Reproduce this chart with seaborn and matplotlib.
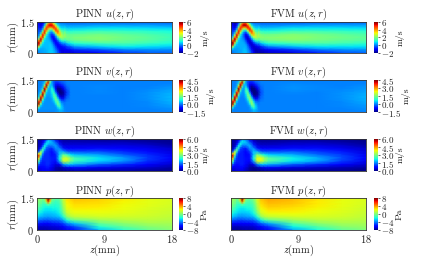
import matplotlib
matplotlib.use("Agg")
import numpy as np
import matplotlib.pyplot as plt
import seaborn as sns
from matplotlib.transforms import Affine2D

# coarse blocks, r top to bottom: 1.5, 1.35 ... 0
# near block: z = 0, 0.5 ... 5, far block: z = 8.25, 11.5, 14.75, 18
pinn_u_near = [
    [-1.0, -1.5, 0.0, 2.5, 2.5, 0.5, -0.3, -0.2, -0.2, -0.2, -0.2],
    [-0.5, -1.2, 1.5, 5.0, 5.0, 3.0, 1.0, 0.3, 0.1, 0.1, 0.1],
    [-0.3, -0.5, 4.5, 4.0, 4.5, 4.8, 2.5, 0.9, 0.6, 0.6, 0.6],
    [-0.2, 0.5, 4.5, 1.5, 1.0, 3.8, 3.7, 1.8, 1.2, 1.1, 1.2],
    [0.0, 3.0, 2.0, 0.5, -0.3, 1.2, 3.0, 2.4, 1.8, 1.7, 1.7],
    [0.5, 5.2, 0.8, 0.3, -0.8, -0.5, 1.0, 2.2, 2.0, 1.9, 2.0],
    [3.0, 4.5, 0.5, 0.4, -0.5, -1.0, -0.2, 1.0, 1.6, 1.7, 1.8],
    [5.8, 1.5, 0.5, 0.5, 0.0, -0.8, -0.8, -0.2, 0.5, 0.9, 1.1],
    [5.0, 0.5, 0.5, 0.6, 0.4, -0.2, -1.0, -1.0, -0.5, -0.2, 0.2],
    [0.0, 0.3, 0.5, 0.6, 0.6, 0.2, -0.6, -1.2, -1.1, -0.9, -0.7],
    [-0.3, 0.2, 0.4, 0.6, 0.6, 0.4, -0.4, -1.2, -1.4, -1.4, -1.3],
]
pinn_u_far = [
    [-0.2, -0.2, -0.2, -0.2],
    [0.2, 0.2, 0.2, 0.1],
    [0.8, 0.8, 0.7, 0.6],
    [1.4, 1.3, 1.2, 1.0],
    [1.9, 1.7, 1.5, 1.3],
    [2.1, 1.9, 1.7, 1.4],
    [2.0, 1.8, 1.6, 1.3],
    [1.4, 1.5, 1.3, 1.0],
    [0.6, 0.9, 0.8, 0.6],
    [-0.4, 0.0, 0.1, 0.1],
    [-1.1, -0.6, -0.3, -0.2],
]
fvm_u_near = [
    [-1.2, -1.6, -0.2, 2.8, 2.8, 0.6, -0.4, -0.3, -0.3, -0.3, -0.3],
    [-0.7, -1.3, 1.4, 5.2, 5.3, 3.2, 1.0, 0.2, 0.0, 0.0, 0.0],
    [-0.4, -0.7, 4.6, 4.2, 4.7, 5.0, 2.6, 0.9, 0.5, 0.5, 0.5],
    [-0.3, 0.4, 4.8, 1.4, 0.8, 3.9, 3.9, 1.9, 1.2, 1.1, 1.1],
    [0.0, 3.0, 2.0, 0.3, -0.6, 1.0, 3.1, 2.6, 1.9, 1.8, 1.8],
    [0.6, 5.4, 0.7, 0.1, -1.2, -0.9, 0.8, 2.4, 2.2, 2.1, 2.1],
    [3.2, 4.6, 0.4, 0.3, -0.7, -1.4, -0.5, 1.0, 1.7, 1.8, 1.9],
    [6.0, 1.4, 0.4, 0.4, -0.1, -1.0, -1.2, -0.3, 0.5, 0.9, 1.1],
    [5.2, 0.4, 0.4, 0.5, 0.3, -0.4, -1.4, -1.3, -0.7, -0.3, 0.0],
    [0.0, 0.2, 0.4, 0.5, 0.5, 0.1, -0.9, -1.5, -1.4, -1.2, -1.0],
    [-0.4, 0.1, 0.3, 0.5, 0.5, 0.3, -0.7, -1.6, -1.7, -1.6, -1.5],
]
fvm_u_far = [
    [-0.3, -0.3, -0.2, -0.2],
    [0.1, 0.2, 0.2, 0.2],
    [0.8, 0.8, 0.8, 0.7],
    [1.4, 1.4, 1.3, 1.2],
    [2.0, 1.9, 1.7, 1.5],
    [2.2, 2.0, 1.9, 1.7],
    [2.0, 1.9, 1.7, 1.6],
    [1.4, 1.5, 1.4, 1.2],
    [0.5, 0.8, 0.8, 0.8],
    [-0.6, -0.1, 0.1, 0.2],
    [-1.3, -0.8, -0.4, -0.2],
]

pinn_v_near = [
    [0.0, 0.0, 0.5, 2.0, 0.5, 0.0, -0.2, -0.1, 0.0, 0.0, 0.0],
    [0.0, 0.0, 1.5, 3.5, 0.2, -0.2, -0.3, -0.2, 0.0, 0.0, 0.0],
    [0.0, 0.2, 3.8, 1.2, 0.0, -0.8, -0.9, -0.5, -0.1, 0.0, 0.0],
    [0.0, 1.0, 4.3, 0.3, 0.3, -1.0, -1.4, -1.0, -0.3, 0.0, 0.0],
    [0.2, 3.2, 1.5, 0.3, 0.6, -0.4, -1.5, -1.3, -0.4, 0.0, 0.0],
    [0.5, 4.4, 0.5, 0.3, 0.9, 0.2, -1.0, -1.1, -0.3, 0.0, 0.0],
    [2.5, 3.2, 0.2, 0.2, 0.8, 0.8, -0.2, -0.5, -0.1, 0.0, 0.0],
    [4.2, 0.8, 0.1, 0.1, 0.4, 1.0, 0.3, -0.1, 0.0, 0.0, 0.0],
    [3.0, 0.2, 0.1, 0.1, 0.2, 0.6, 0.5, 0.0, 0.0, 0.0, 0.0],
    [0.3, 0.1, 0.1, 0.1, 0.1, 0.2, 0.4, 0.1, 0.0, 0.0, 0.0],
    [0.0, 0.0, 0.0, 0.0, 0.0, 0.0, 0.1, 0.1, 0.0, 0.0, 0.0],
]
pinn_v_far = [
    [0.0, 0.0, 0.0, 0.0],
    [0.0, 0.0, 0.0, 0.0],
    [0.05, 0.0, 0.0, 0.1],
    [0.05, 0.0, 0.05, 0.2],
    [0.05, 0.0, 0.1, 0.3],
    [0.0, 0.0, 0.1, 0.35],
    [0.0, 0.0, 0.1, 0.35],
    [0.0, 0.0, 0.05, 0.3],
    [0.0, 0.0, 0.05, 0.2],
    [0.0, 0.0, 0.0, 0.1],
    [0.0, 0.0, 0.0, 0.0],
]
fvm_v_near = [
    [0.0, 0.0, 0.4, 2.2, 0.4, 0.0, -0.2, -0.1, 0.0, 0.0, 0.0],
    [0.0, 0.0, 1.5, 3.7, 0.1, -0.3, -0.4, -0.2, 0.0, 0.0, 0.0],
    [0.0, 0.2, 4.0, 1.1, 0.0, -0.9, -1.0, -0.5, -0.1, 0.0, 0.0],
    [0.0, 1.0, 4.5, 0.2, 0.4, -1.1, -1.5, -1.1, -0.2, 0.0, 0.0],
    [0.2, 3.3, 1.4, 0.2, 0.8, -0.4, -1.6, -1.4, -0.3, 0.0, 0.0],
    [0.5, 4.5, 0.4, 0.2, 1.1, 0.3, -1.2, -1.2, -0.2, 0.0, 0.0],
    [2.6, 3.3, 0.1, 0.1, 0.9, 1.0, -0.3, -0.5, -0.1, 0.0, 0.0],
    [4.3, 0.8, 0.0, 0.0, 0.4, 1.2, 0.3, -0.1, 0.0, 0.0, 0.0],
    [3.1, 0.1, 0.0, 0.0, 0.2, 0.7, 0.6, 0.0, 0.0, 0.0, 0.0],
    [0.2, 0.0, 0.0, 0.0, 0.1, 0.2, 0.4, 0.1, 0.0, 0.0, 0.0],
    [0.0, 0.0, 0.0, 0.0, 0.0, 0.0, 0.1, 0.1, 0.0, 0.0, 0.0],
]
fvm_v_far = [
    [0.0, 0.0, 0.0, 0.0],
    [0.05, 0.0, 0.0, 0.0],
    [0.1, 0.05, 0.0, 0.1],
    [0.1, 0.05, 0.05, 0.15],
    [0.05, 0.0, 0.1, 0.25],
    [0.0, 0.0, 0.1, 0.3],
    [0.0, 0.0, 0.1, 0.3],
    [0.0, 0.0, 0.05, 0.25],
    [0.0, 0.0, 0.05, 0.15],
    [0.0, 0.0, 0.0, 0.1],
    [0.0, 0.0, 0.0, 0.0],
]

pinn_w_near = [
    [0.3, 0.3, 0.7, 1.6, 1.3, 0.6, 0.3, 0.2, 0.2, 0.2, 0.2],
    [0.3, 0.4, 1.2, 2.0, 1.8, 1.2, 0.5, 0.3, 0.3, 0.3, 0.3],
    [0.3, 0.5, 2.0, 1.5, 1.6, 1.7, 1.0, 0.5, 0.5, 0.5, 0.5],
    [0.4, 1.0, 2.0, 1.1, 1.0, 1.6, 1.5, 0.9, 0.7, 0.7, 0.7],
    [0.8, 2.6, 1.2, 1.0, 0.8, 1.2, 1.8, 1.7, 1.3, 1.2, 1.2],
    [3.5, 3.0, 1.0, 1.0, 0.8, 0.9, 1.9, 2.8, 2.5, 2.1, 1.9],
    [6.0, 2.2, 1.0, 1.0, 0.9, 0.9, 2.2, 3.5, 3.6, 3.0, 2.6],
    [6.0, 1.5, 0.9, 1.0, 0.9, 0.8, 1.8, 3.5, 3.5, 2.9, 2.5],
    [5.0, 1.0, 0.9, 1.0, 0.8, 0.5, 0.7, 1.6, 1.9, 1.9, 1.8],
    [1.0, 0.7, 0.8, 0.8, 0.6, 0.3, 0.2, 0.4, 0.6, 0.7, 0.8],
    [0.5, 0.5, 0.6, 0.6, 0.4, 0.2, 0.1, 0.1, 0.1, 0.1, 0.2],
]
pinn_w_far = [
    [0.1, 0.1, 0.1, 0.1],
    [0.3, 0.3, 0.2, 0.1],
    [0.5, 0.5, 0.4, 0.2],
    [0.8, 0.7, 0.6, 0.4],
    [1.2, 1.0, 0.8, 0.5],
    [1.7, 1.3, 1.0, 0.6],
    [2.1, 1.7, 1.1, 0.7],
    [2.0, 1.6, 1.0, 0.6],
    [1.3, 1.0, 0.7, 0.4],
    [0.6, 0.5, 0.4, 0.2],
    [0.2, 0.2, 0.1, 0.1],
]
fvm_w_near = [
    [0.2, 0.2, 0.6, 1.6, 1.4, 0.6, 0.2, 0.1, 0.1, 0.1, 0.1],
    [0.2, 0.3, 1.2, 2.1, 1.9, 1.2, 0.5, 0.3, 0.2, 0.2, 0.2],
    [0.2, 0.4, 2.1, 1.5, 1.6, 1.8, 1.0, 0.5, 0.4, 0.4, 0.4],
    [0.3, 1.0, 2.1, 1.0, 0.9, 1.6, 1.6, 0.9, 0.7, 0.7, 0.7],
    [0.8, 2.8, 1.2, 0.9, 0.7, 1.1, 1.9, 1.8, 1.3, 1.2, 1.2],
    [3.8, 3.1, 1.0, 0.9, 0.7, 0.8, 1.9, 3.0, 2.6, 2.2, 2.0],
    [6.0, 2.2, 1.0, 0.9, 0.8, 0.8, 2.2, 3.7, 3.8, 3.2, 2.8],
    [6.0, 1.5, 0.9, 0.9, 0.8, 0.7, 1.7, 3.7, 3.7, 3.1, 2.7],
    [5.2, 1.0, 0.9, 0.9, 0.7, 0.4, 0.6, 1.5, 1.9, 1.9, 1.8],
    [1.0, 0.7, 0.7, 0.7, 0.5, 0.2, 0.1, 0.3, 0.5, 0.6, 0.7],
    [0.4, 0.4, 0.5, 0.5, 0.3, 0.1, 0.0, 0.0, 0.0, 0.1, 0.1],
]
fvm_w_far = [
    [0.1, 0.1, 0.1, 0.0],
    [0.3, 0.3, 0.2, 0.1],
    [0.5, 0.5, 0.4, 0.2],
    [0.8, 0.8, 0.6, 0.4],
    [1.3, 1.1, 0.9, 0.5],
    [1.8, 1.4, 1.1, 0.6],
    [2.2, 1.8, 1.2, 0.7],
    [2.1, 1.7, 1.1, 0.6],
    [1.3, 1.0, 0.7, 0.4],
    [0.5, 0.4, 0.3, 0.2],
    [0.1, 0.1, 0.1, 0.0],
]

pinn_p_near = [
    [0.5, 0.3, 1.0, 8.0, 1.0, -0.6, -0.5, 1.5, 2.7, 3.0, 3.3],
    [0.3, -0.2, -0.5, 5.0, -0.5, -1.2, -0.8, 1.0, 2.5, 2.8, 3.1],
    [0.0, -0.7, -1.2, -1.5, -1.5, -1.6, -1.2, 0.8, 2.3, 2.5, 2.8],
    [-0.5, -1.2, -1.8, -2.1, -2.1, -2.0, -1.5, 0.4, 2.1, 2.4, 2.6],
    [-1.1, -1.8, -2.4, -2.6, -2.5, -2.3, -1.8, 0.0, 1.8, 2.1, 2.3],
    [-1.8, -2.4, -3.0, -3.0, -2.9, -2.7, -2.2, -0.6, 1.2, 1.7, 1.9],
    [-2.8, -3.2, -3.5, -3.6, -3.4, -3.3, -3.0, -1.8, 0.2, 0.9, 1.2],
    [-4.2, -4.5, -4.7, -4.7, -4.5, -4.4, -4.2, -3.4, -2.0, -1.0, -0.5],
    [-5.5, -5.8, -5.9, -5.9, -5.7, -5.6, -5.5, -5.0, -4.0, -3.5, -3.0],
    [-6.8, -6.9, -6.9, -6.8, -6.7, -6.6, -6.5, -6.0, -5.5, -5.2, -4.8],
    [-7.5, -7.5, -7.5, -7.4, -7.2, -7.2, -7.1, -6.8, -6.4, -6.1, -5.8],
]
pinn_p_far = [
    [3.0, 2.5, 2.1, 1.8],
    [2.9, 2.4, 2.0, 1.8],
    [2.7, 2.3, 2.0, 1.7],
    [2.5, 2.2, 1.9, 1.6],
    [2.3, 2.1, 1.8, 1.5],
    [2.0, 1.9, 1.7, 1.4],
    [1.6, 1.6, 1.5, 1.3],
    [0.6, 1.0, 1.2, 1.1],
    [-0.5, 0.3, 0.8, 0.8],
    [-1.7, -0.5, 0.2, 0.5],
    [-3.0, -1.6, -0.5, 0.2],
]
fvm_p_near = [
    [0.8, 0.4, 1.0, 8.0, 0.8, -0.4, 0.0, 2.0, 3.2, 3.5, 3.8],
    [0.5, 0.0, -0.4, 4.0, -0.5, -1.0, -0.3, 1.5, 3.0, 3.3, 3.6],
    [0.2, -0.5, -1.0, -1.4, -1.4, -1.4, -0.8, 1.2, 2.7, 3.0, 3.3],
    [-0.3, -1.1, -1.7, -2.0, -2.0, -1.8, -1.1, 0.8, 2.4, 2.7, 3.0],
    [-0.9, -1.7, -2.3, -2.5, -2.5, -2.2, -1.5, 0.4, 2.0, 2.3, 2.6],
    [-1.7, -2.4, -3.0, -3.1, -3.0, -2.8, -2.1, -0.3, 1.4, 1.9, 2.1],
    [-2.8, -3.3, -3.7, -3.8, -3.6, -3.5, -3.1, -1.7, 0.3, 1.0, 1.3],
    [-4.4, -4.7, -5.0, -5.0, -4.8, -4.7, -4.5, -3.6, -2.2, -1.2, -0.7],
    [-5.8, -6.0, -6.2, -6.2, -6.0, -5.9, -5.8, -5.3, -4.4, -3.9, -3.4],
    [-7.0, -7.1, -7.1, -7.0, -6.9, -6.9, -6.8, -6.4, -5.9, -5.5, -5.2],
    [-7.7, -7.7, -7.7, -7.6, -7.5, -7.5, -7.4, -7.1, -6.8, -6.5, -6.2],
]
fvm_p_far = [
    [3.4, 2.7, 2.2, 1.8],
    [3.3, 2.6, 2.1, 1.8],
    [3.1, 2.5, 2.1, 1.7],
    [2.8, 2.4, 2.0, 1.6],
    [2.5, 2.2, 1.9, 1.5],
    [2.2, 2.0, 1.8, 1.4],
    [1.6, 1.7, 1.6, 1.3],
    [0.5, 1.1, 1.2, 1.1],
    [-0.8, 0.3, 0.8, 0.8],
    [-2.1, -0.7, 0.2, 0.5],
    [-3.5, -1.9, -0.6, 0.1],
]

# fine blocks near the stripe, z step 0.25, r step 0.1 from r = 1.5 down
# u, v: z = 0 ... 3.5, w: z = 0 ... 1.5, p: z = 0.75 ... 2.25
pinn_u_fine = [
    [-0.8, -1.2, -1.5, -1.4, -0.6, 0.6, 1.8, 2.4, 2.4, 1.4, 0.5, -0.1, -0.3, -0.3, -0.2],
    [-0.7, -1.1, -1.4, -1.2, -0.2, 2.0, 4.2, 5.0, 4.8, 3.2, 1.5, 0.5, 0.2, 0.1, 0.1],
    [-0.5, -0.9, -1.2, -0.8, 0.8, 3.8, 5.0, 5.3, 5.3, 4.8, 3.2, 1.4, 0.6, 0.4, 0.4],
    [-0.4, -0.7, -0.9, -0.2, 2.5, 4.9, 4.2, 3.5, 3.8, 4.9, 4.6, 2.8, 1.2, 0.8, 0.7],
    [-0.3, -0.5, -0.5, 0.8, 4.3, 4.5, 2.5, 1.5, 1.5, 3.2, 4.8, 4.2, 2.3, 1.4, 1.1],
    [-0.2, -0.3, 0.2, 2.6, 5.2, 3.0, 1.2, 0.4, 0.2, 1.2, 3.4, 4.5, 3.4, 2.1, 1.5],
    [-0.1, -0.1, 1.4, 4.6, 4.4, 1.6, 0.6, -0.1, -0.5, -0.1, 1.6, 3.4, 3.6, 2.5, 1.9],
    [0.0, 0.3, 3.2, 5.3, 2.8, 0.9, 0.4, -0.1, -0.9, -0.8, 0.2, 1.8, 2.8, 2.6, 2.2],
    [0.6, 1.8, 5.0, 4.2, 1.4, 0.6, 0.4, 0.1, -0.7, -1.1, -0.5, 0.6, 1.6, 2.2, 2.1],
    [2.6, 4.2, 5.5, 2.4, 0.8, 0.5, 0.5, 0.3, -0.3, -1.0, -1.0, -0.3, 0.6, 1.2, 1.4],
    [5.0, 5.6, 3.8, 1.2, 0.6, 0.5, 0.5, 0.5, 0.1, -0.6, -1.1, -0.9, -0.3, 0.2, 0.5],
    [6.0, 5.2, 1.8, 0.7, 0.5, 0.5, 0.5, 0.6, 0.4, -0.2, -0.9, -1.1, -0.9, -0.5, -0.2],
    [5.0, 2.6, 0.8, 0.5, 0.5, 0.5, 0.5, 0.6, 0.5, 0.1, -0.5, -1.0, -1.1, -1.0, -0.8],
    [1.5, 0.8, 0.4, 0.4, 0.4, 0.5, 0.5, 0.6, 0.6, 0.3, -0.2, -0.7, -1.1, -1.2, -1.1],
    [0.2, 0.2, 0.3, 0.3, 0.4, 0.4, 0.5, 0.6, 0.6, 0.4, 0.1, -0.4, -0.9, -1.3, -1.3],
    [-0.2, 0.0, 0.2, 0.3, 0.3, 0.4, 0.5, 0.6, 0.6, 0.5, 0.2, -0.2, -0.7, -1.2, -1.4],
]
fvm_u_fine = [
    [-1.0, -1.4, -1.7, -1.5, -0.7, 0.6, 2.0, 2.6, 2.6, 1.5, 0.5, -0.2, -0.4, -0.4, -0.3],
    [-0.9, -1.3, -1.6, -1.3, -0.3, 2.0, 4.4, 5.3, 5.1, 3.4, 1.5, 0.4, 0.1, 0.0, 0.0],
    [-0.7, -1.1, -1.4, -0.9, 0.8, 3.9, 5.2, 5.6, 5.6, 5.0, 3.3, 1.3, 0.5, 0.3, 0.3],
    [-0.6, -0.9, -1.1, -0.3, 2.5, 5.1, 4.3, 3.4, 3.7, 5.1, 4.8, 2.8, 1.1, 0.7, 0.6],
    [-0.4, -0.7, -0.7, 0.7, 4.4, 4.7, 2.4, 1.2, 1.2, 3.2, 5.0, 4.3, 2.2, 1.3, 1.0],
    [-0.3, -0.5, 0.1, 2.6, 5.4, 3.0, 1.0, 0.1, -0.2, 1.0, 3.4, 4.7, 3.5, 2.1, 1.5],
    [-0.2, -0.2, 1.4, 4.8, 4.5, 1.5, 0.4, -0.4, -1.0, -0.5, 1.4, 3.5, 3.8, 2.6, 2.0],
    [0.0, 0.3, 3.3, 5.5, 2.8, 0.8, 0.2, -0.4, -1.3, -1.2, -0.1, 1.7, 2.9, 2.8, 2.3],
    [0.7, 1.9, 5.2, 4.3, 1.3, 0.5, 0.2, -0.1, -1.0, -1.5, -0.9, 0.4, 1.6, 2.3, 2.2],
    [2.8, 4.4, 5.7, 2.4, 0.7, 0.4, 0.3, 0.1, -0.5, -1.3, -1.4, -0.6, 0.5, 1.2, 1.5],
    [5.3, 5.8, 3.9, 1.1, 0.5, 0.4, 0.4, 0.3, -0.1, -0.9, -1.5, -1.3, -0.5, 0.1, 0.5],
    [6.0, 5.4, 1.8, 0.6, 0.4, 0.4, 0.4, 0.4, 0.2, -0.4, -1.2, -1.5, -1.2, -0.7, -0.3],
    [5.4, 2.7, 0.7, 0.4, 0.4, 0.4, 0.4, 0.4, 0.4, -0.1, -0.7, -1.3, -1.5, -1.3, -1.0],
    [1.5, 0.7, 0.3, 0.3, 0.3, 0.4, 0.4, 0.5, 0.4, 0.1, -0.4, -1.0, -1.4, -1.5, -1.4],
    [0.1, 0.1, 0.2, 0.2, 0.3, 0.3, 0.4, 0.5, 0.5, 0.2, -0.1, -0.7, -1.2, -1.6, -1.6],
    [-0.3, -0.1, 0.1, 0.2, 0.2, 0.3, 0.4, 0.5, 0.5, 0.3, 0.0, -0.5, -1.0, -1.5, -1.7],
]
pinn_v_fine = [
    [0.0, 0.0, 0.0, 0.0, 0.1, 0.5, 2.2, 1.0, 0.2, -0.1, -0.2, -0.2, -0.2, -0.1, -0.1],
    [0.0, 0.0, 0.0, 0.1, 0.3, 1.8, 4.2, 1.6, 0.2, -0.2, -0.4, -0.4, -0.3, -0.2, -0.1],
    [0.0, 0.0, 0.0, 0.1, 0.8, 3.8, 3.2, 0.6, 0.2, -0.2, -0.6, -0.7, -0.6, -0.4, -0.3],
    [0.0, 0.0, 0.0, 0.2, 2.2, 4.5, 1.4, 0.3, 0.4, -0.2, -0.9, -1.1, -1.0, -0.8, -0.5],
    [0.0, 0.0, 0.1, 0.6, 4.0, 3.0, 0.5, 0.3, 0.8, 0.2, -0.9, -1.4, -1.4, -1.2, -0.8],
    [0.0, 0.0, 0.2, 1.8, 4.5, 1.4, 0.3, 0.3, 0.9, 0.6, -0.5, -1.4, -1.5, -1.4, -1.1],
    [0.0, 0.1, 0.6, 3.6, 3.2, 0.6, 0.2, 0.3, 0.7, 1.0, 0.0, -1.0, -1.5, -1.5, -1.3],
    [0.1, 0.2, 1.8, 4.5, 1.6, 0.3, 0.2, 0.2, 0.5, 1.2, 0.7, -0.4, -1.2, -1.4, -1.2],
    [0.1, 0.6, 3.6, 3.6, 0.7, 0.2, 0.1, 0.2, 0.4, 1.0, 1.2, 0.2, -0.7, -1.1, -1.0],
    [0.4, 1.8, 4.5, 1.8, 0.3, 0.1, 0.1, 0.1, 0.2, 0.7, 1.4, 0.8, -0.1, -0.6, -0.6],
    [1.2, 3.6, 3.6, 0.7, 0.2, 0.1, 0.1, 0.1, 0.2, 0.4, 1.1, 1.3, 0.5, -0.1, -0.2],
    [3.0, 4.5, 1.8, 0.3, 0.1, 0.1, 0.1, 0.1, 0.1, 0.2, 0.7, 1.4, 0.9, 0.2, 0.0],
    [4.3, 3.0, 0.6, 0.2, 0.1, 0.1, 0.1, 0.1, 0.1, 0.1, 0.3, 1.0, 1.2, 0.4, 0.1],
    [3.0, 0.8, 0.2, 0.1, 0.1, 0.1, 0.1, 0.1, 0.1, 0.1, 0.1, 0.5, 0.9, 0.5, 0.2],
    [0.4, 0.2, 0.1, 0.1, 0.1, 0.1, 0.1, 0.1, 0.1, 0.1, 0.1, 0.2, 0.4, 0.4, 0.2],
    [0.0, 0.0, 0.0, 0.0, 0.0, 0.0, 0.0, 0.0, 0.0, 0.0, 0.1, 0.1, 0.2, 0.2, 0.1],
]
fvm_v_fine = [
    [0.0, 0.0, 0.0, 0.0, 0.1, 0.5, 2.4, 1.0, 0.1, -0.2, -0.3, -0.3, -0.2, -0.1, -0.1],
    [0.0, 0.0, 0.0, 0.1, 0.3, 1.9, 4.4, 1.6, 0.2, -0.3, -0.5, -0.5, -0.4, -0.2, -0.1],
    [0.0, 0.0, 0.0, 0.1, 0.8, 3.9, 3.4, 0.5, 0.2, -0.3, -0.7, -0.8, -0.7, -0.5, -0.3],
    [0.0, 0.0, 0.0, 0.2, 2.3, 4.6, 1.4, 0.2, 0.5, -0.3, -1.0, -1.3, -1.1, -0.9, -0.5],
    [0.0, 0.0, 0.1, 0.6, 4.2, 3.1, 0.4, 0.2, 1.0, 0.3, -1.0, -1.5, -1.5, -1.3, -0.8],
    [0.0, 0.0, 0.2, 1.9, 4.6, 1.4, 0.2, 0.2, 1.1, 0.8, -0.6, -1.5, -1.6, -1.5, -1.1],
    [0.0, 0.1, 0.6, 3.8, 3.3, 0.5, 0.1, 0.2, 0.9, 1.3, 0.1, -1.1, -1.6, -1.6, -1.3],
    [0.1, 0.2, 1.9, 4.6, 1.6, 0.2, 0.1, 0.1, 0.6, 1.5, 0.9, -0.5, -1.4, -1.5, -1.2],
    [0.1, 0.6, 3.8, 3.7, 0.6, 0.1, 0.0, 0.1, 0.4, 1.2, 1.5, 0.3, -0.9, -1.2, -1.0],
    [0.4, 1.9, 4.6, 1.8, 0.2, 0.0, 0.0, 0.0, 0.2, 0.8, 1.7, 1.0, -0.1, -0.7, -0.6],
    [1.3, 3.8, 3.7, 0.6, 0.1, 0.0, 0.0, 0.0, 0.1, 0.4, 1.3, 1.6, 0.6, -0.1, -0.2],
    [3.2, 4.6, 1.8, 0.2, 0.0, 0.0, 0.0, 0.0, 0.0, 0.2, 0.8, 1.7, 1.1, 0.2, 0.0],
    [4.4, 3.1, 0.5, 0.1, 0.0, 0.0, 0.0, 0.0, 0.0, 0.1, 0.3, 1.2, 1.4, 0.5, 0.1],
    [3.1, 0.7, 0.1, 0.0, 0.0, 0.0, 0.0, 0.0, 0.0, 0.0, 0.1, 0.6, 1.1, 0.6, 0.2],
    [0.3, 0.1, 0.0, 0.0, 0.0, 0.0, 0.0, 0.0, 0.0, 0.0, 0.1, 0.2, 0.5, 0.4, 0.2],
    [0.0, 0.0, 0.0, 0.0, 0.0, 0.0, 0.0, 0.0, 0.0, 0.0, 0.0, 0.1, 0.2, 0.2, 0.1],
]
pinn_w_fine = [
    [0.3, 0.3, 0.3, 0.4, 0.6, 0.9, 1.5],
    [0.3, 0.3, 0.3, 0.5, 0.8, 1.4, 2.1],
    [0.3, 0.3, 0.4, 0.6, 1.2, 2.1, 2.0],
    [0.3, 0.3, 0.4, 0.9, 2.0, 2.1, 1.5],
    [0.3, 0.4, 0.6, 1.6, 2.4, 1.5, 1.2],
    [0.4, 0.5, 1.3, 2.6, 1.9, 1.2, 1.1],
    [0.6, 1.2, 3.0, 2.6, 1.3, 1.1, 1.0],
    [2.2, 4.0, 3.6, 1.7, 1.1, 1.0, 1.0],
    [5.5, 5.2, 2.6, 1.3, 1.0, 1.0, 1.0],
    [6.0, 4.0, 1.9, 1.1, 1.0, 1.0, 1.0],
    [6.0, 3.0, 1.4, 1.0, 1.0, 1.0, 1.0],
    [6.0, 2.2, 1.1, 0.9, 0.9, 1.0, 1.0],
    [5.0, 1.3, 0.9, 0.9, 0.9, 1.0, 1.0],
    [1.6, 0.8, 0.8, 0.8, 0.8, 0.9, 0.9],
    [0.7, 0.6, 0.6, 0.7, 0.7, 0.8, 0.8],
    [0.5, 0.5, 0.5, 0.6, 0.6, 0.6, 0.6],
]
fvm_w_fine = [
    [0.2, 0.2, 0.2, 0.3, 0.5, 0.9, 1.5],
    [0.2, 0.2, 0.2, 0.4, 0.7, 1.4, 2.2],
    [0.2, 0.2, 0.3, 0.5, 1.1, 2.2, 2.0],
    [0.2, 0.2, 0.3, 0.8, 2.0, 2.2, 1.5],
    [0.2, 0.3, 0.5, 1.6, 2.5, 1.5, 1.1],
    [0.3, 0.4, 1.3, 2.8, 1.9, 1.1, 1.0],
    [0.6, 1.2, 3.2, 2.7, 1.3, 1.0, 0.9],
    [2.5, 4.3, 3.8, 1.7, 1.0, 0.9, 0.9],
    [5.8, 5.5, 2.7, 1.3, 0.9, 0.9, 0.9],
    [6.0, 4.3, 2.0, 1.1, 0.9, 0.9, 0.9],
    [6.0, 3.2, 1.4, 1.0, 0.9, 0.9, 0.9],
    [6.0, 2.3, 1.1, 0.9, 0.9, 0.9, 0.9],
    [5.3, 1.3, 0.9, 0.8, 0.8, 0.9, 0.9],
    [1.6, 0.7, 0.7, 0.7, 0.7, 0.8, 0.8],
    [0.6, 0.5, 0.5, 0.6, 0.6, 0.7, 0.7],
    [0.4, 0.4, 0.4, 0.5, 0.5, 0.5, 0.5],
]
pinn_p_fine = [
    [-0.3, 0.3, 4.0, 8.0, 4.5, 0.3, -0.6],
    [-0.5, 0.0, 3.5, 8.0, 4.0, -0.2, -0.8],
    [-0.7, -0.8, 1.0, 5.0, 1.5, -0.8, -1.1],
    [-1.2, -1.4, -1.2, 0.0, -1.0, -1.4, -1.4],
    [-1.5, -1.7, -1.8, -1.8, -1.8, -1.8, -1.7],
    [-1.8, -2.1, -2.2, -2.2, -2.2, -2.1, -2.0],
    [-2.2, -2.4, -2.5, -2.5, -2.5, -2.4, -2.3],
]
fvm_p_fine = [
    [-0.2, 0.2, 3.2, 8.0, 3.6, 0.3, -0.5],
    [-0.4, -0.1, 3.0, 8.0, 3.2, -0.2, -0.7],
    [-0.7, -0.8, 0.6, 4.5, 1.0, -0.8, -1.0],
    [-1.1, -1.4, -1.2, -0.3, -1.1, -1.3, -1.3],
    [-1.5, -1.7, -1.8, -1.8, -1.8, -1.7, -1.6],
    [-1.8, -2.1, -2.2, -2.3, -2.2, -2.1, -1.9],
    [-2.2, -2.4, -2.6, -2.6, -2.6, -2.4, -2.2],
]

fields = ["u", "v", "w", "p"]
units = ["m/s", "m/s", "m/s", "Pa"]
limits = [(-2, 6), (-1.5, 4.5), (0, 6), (-8, 8)]
fine_start = [0, 0, 0, 0.75]
cbar_ticks = [[-2, 0, 2, 4, 6], [-1.5, 0, 1.5, 3, 4.5], [0, 1.5, 3, 4.5, 6], [-8, -4, 0, 4, 8]]
cbar_labels = [
    ["$-2$", "$0$", "$2$", "$4$", "$6$"],
    ["$-1.5$", "$0.0$", "$1.5$", "$3.0$", "$4.5$"],
    ["$0.0$", "$1.5$", "$3.0$", "$4.5$", "$6.0$"],
    ["$-8$", "$-4$", "$0$", "$4$", "$8$"],
]
near = {
    "PINN": [pinn_u_near, pinn_v_near, pinn_w_near, pinn_p_near],
    "FVM": [fvm_u_near, fvm_v_near, fvm_w_near, fvm_p_near],
}
far = {
    "PINN": [pinn_u_far, pinn_v_far, pinn_w_far, pinn_p_far],
    "FVM": [fvm_u_far, fvm_v_far, fvm_w_far, fvm_p_far],
}
fine = {
    "PINN": [pinn_u_fine, pinn_v_fine, pinn_w_fine, pinn_p_fine],
    "FVM": [fvm_u_fine, fvm_v_fine, fvm_w_fine, fvm_p_fine],
}

sns.set_style("white")
plt.rcParams["font.family"] = ["cmr10", "DejaVu Sans"]
plt.rcParams["mathtext.fontset"] = "cm"
plt.rcParams["axes.formatter.use_mathtext"] = True
plt.rcParams["axes.unicode_minus"] = False

W, H = 423, 264
fig = plt.figure(figsize=(W / 100, H / 100), dpi=100)

tops = [22, 80, 139, 198]
bottoms = [53, 112, 171, 230]
lefts = {"PINN": 37, "FVM": 231}
rights = {"PINN": 172, "FVM": 366}
cbar_left = {"PINN": 179, "FVM": 374}
label_offset = [26, 32, 26, 25]


def px_axes(x0, x1, y0, y1):
    return fig.add_axes([x0 / W, 1 - y1 / H, (x1 - x0) / W, (y1 - y0) / H])


def draw_block(ax, block, z_step, r_step, z0, **kws):
    # heatmap cells are indexed, so scale them to mm with a transform
    to_mm = Affine2D().scale(z_step, -r_step).translate(z0, 1.5) + ax.transData
    sns.heatmap(block, ax=ax, cmap="jet", shading="gouraud", xticklabels=False,
                yticklabels=False, transform=to_mm, **kws)


for name in ["PINN", "FVM"]:
    for i, field in enumerate(fields):
        ax = px_axes(lefts[name], rights[name], tops[i], bottoms[i])
        cax = px_axes(cbar_left[name], cbar_left[name] + 4, tops[i], bottoms[i])
        vmin, vmax = limits[i]

        nb = np.array(near[name][i])
        fb = np.column_stack([nb[:, -1], np.array(far[name][i])])

        draw_block(ax, nb, 0.5, 0.15, 0, vmin=vmin, vmax=vmax, cbar_ax=cax,
                   cbar_kws={"ticks": cbar_ticks[i]})
        draw_block(ax, fb, 3.25, 0.15, 5, vmin=vmin, vmax=vmax, cbar=False)
        draw_block(ax, np.array(fine[name][i]), 0.25, 0.1, fine_start[i],
                   vmin=vmin, vmax=vmax, cbar=False)

        ax.set_xlim(0, 18)
        ax.set_ylim(0, 1.5)
        for s in ax.spines.values():
            s.set_visible(True)
            s.set_linewidth(0.6)
            s.set_color("#333333")
        ax.set_title(name + " $" + field + "(z,r)$", fontsize=7.6, pad=3, color="#222222")
        ax.tick_params(length=0, labelsize=7.5, pad=2, colors="#222222")

        if name == "PINN":
            ax.set_yticks([0, 1.5])
            ax.set_yticklabels(["$0$", "$1.5$"])
            ax.set_ylabel("$r$(mm)", fontsize=7.5, va="center", color="#222222")
            ax.yaxis.set_label_coords((13 - 37) / 135, 0.5)
        else:
            ax.set_yticks([])
        if i == 3:
            ax.set_xticks([0, 9, 18])
            ax.set_xticklabels(["$0$", "$9$", "$18$"])
            ax.set_xlabel("$z$(mm)", fontsize=7.5, va="center", color="#222222")
            ax.xaxis.set_label_coords(0.5, -(250 - 230) / 32)
        else:
            ax.set_xticks([])

        cax.set_yticks(cbar_ticks[i])
        cax.set_yticklabels(cbar_labels[i])
        cax.tick_params(length=1.5, width=0.5, labelsize=6.5, pad=1, colors="#222222")
        cax.set_ylabel(units[i], fontsize=7, va="center", color="#222222")
        cax.yaxis.set_label_coords(label_offset[i] / 4, 0.5)

fig.savefig("out.png", dpi=100)
